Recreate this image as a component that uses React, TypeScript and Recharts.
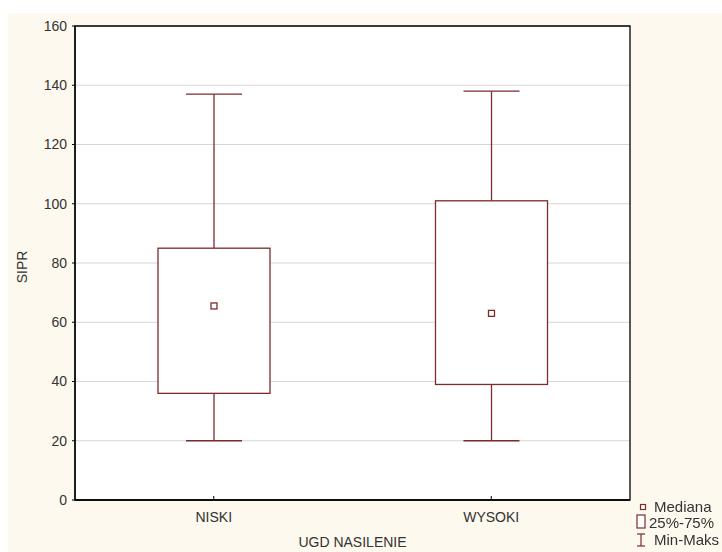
import React from 'react';
import { ComposedChart, Bar, XAxis, YAxis, CartesianGrid, ReferenceArea, Label, Legend } from 'recharts';

const categories = ['NISKI', 'WYSOKI'];
const minValues = [20, 20];
const q1Values = [36, 39];
const medianValues = [65.5, 63];
const q3Values = [85, 101];
const maxValues = [137, 138];
const yTicks = [0, 20, 40, 60, 80, 100, 120, 140, 160];

const data = categories.map((name, i) => ({
  name,
  range: [minValues[i], maxValues[i]],
  min: minValues[i],
  q1: q1Values[i],
  median: medianValues[i],
  q3: q3Values[i],
  max: maxValues[i],
}));

const BOX = '#7d2b2b';
const FONT = "Arial, 'Liberation Sans', sans-serif";
const CREAM = '#fdf9ee';

function BoxShape(props: any) {
  const { x, y, width, height, payload } = props;
  const { min, max, q1, median, q3 } = payload;
  const top = Math.min(y, y + height);
  const bottom = Math.max(y, y + height);
  const span = max - min;
  const pix = (v: number) => bottom - ((v - min) / span) * (bottom - top);
  const cx = x + width / 2;
  const capHalf = width / 4;
  const ms = 3;
  return (
    <g stroke={BOX} strokeWidth={1.3} fill="none">
      <line x1={cx} x2={cx} y1={pix(max)} y2={pix(q3)} />
      <line x1={cx} x2={cx} y1={pix(q1)} y2={pix(min)} />
      <line x1={cx - capHalf} x2={cx + capHalf} y1={pix(max)} y2={pix(max)} />
      <line x1={cx - capHalf} x2={cx + capHalf} y1={pix(min)} y2={pix(min)} />
      <rect x={x} y={pix(q3)} width={width} height={pix(q1) - pix(q3)} fill="#fff" />
      <rect x={cx - ms} y={pix(median) - ms} width={ms * 2} height={ms * 2} fill="#fff" />
    </g>
  );
}

function LegendContent() {
  return (
    <svg width={90} height={54} style={{ display: 'block', overflow: 'visible' }}>
      <g stroke={BOX} strokeWidth={1.2} fill="none">
        <rect x={6.5} y={7.5} width={5} height={5} fill="#fff" />
        <rect x={3} y={18} width={8} height={13} fill="#fff" />
        <line x1={3} x2={11} y1={37} y2={37} />
        <line x1={7} x2={7} y1={37} y2={49} />
        <line x1={3} x2={11} y1={49} y2={49} />
      </g>
      <g fontFamily={FONT} fontSize={15} fill="#333">
        <text x={20} y={15}>Mediana</text>
        <text x={15} y={31}>25%-75%</text>
        <text x={20} y={48}>Min-Maks</text>
      </g>
    </svg>
  );
}

function YLabel(props: any) {
  const { viewBox } = props;
  const x = viewBox.x + 12;
  const y = viewBox.y + viewBox.height / 2 + 4;
  return (
    <text
      x={x}
      y={y}
      transform={`rotate(-90 ${x} ${y})`}
      textAnchor="middle"
      fontFamily={FONT}
      fontSize={14}
      fill="#333"
    >
      SIPR
    </text>
  );
}

export default function App() {
  return (
    <div style={{ position: 'fixed', left: 8, top: 13, width: 714, height: 539, background: CREAM }}>
      <ComposedChart
        width={714}
        height={539}
        data={data}
        margin={{ top: 13, right: 92, bottom: 0, left: 7 }}
      >
        <CartesianGrid vertical={false} stroke="#d6d6d6" fill="#fff" />
        <XAxis
          dataKey="name"
          height={52}
          tickSize={-4}
          tickMargin={16}
          tickLine={{ stroke: '#000' }}
          axisLine={{ stroke: '#000', strokeWidth: 1.3 }}
          tick={{ fill: '#333', fontSize: 14, fontFamily: FONT }}
        >
          <Label
            value="UGD NASILENIE"
            position="insideBottom"
            offset={5}
            style={{ fill: '#333', fontSize: 14, fontFamily: FONT }}
          />
        </XAxis>
        <YAxis
          width={60}
          domain={[0, 160]}
          ticks={yTicks}
          interval={0}
          tickSize={3}
          tickMargin={5}
          tickLine={{ stroke: '#000' }}
          axisLine={{ stroke: '#000', strokeWidth: 1.3 }}
          tick={{ fill: '#333', fontSize: 14, fontFamily: FONT }}
        >
          <Label content={<YLabel />} />
        </YAxis>
        <ReferenceArea y1={0} y2={160} fill="none" stroke="#000" strokeWidth={1.3} ifOverflow="visible" />
        <Bar dataKey="range" barSize={112} isAnimationActive={false} shape={<BoxShape />} />
        <Legend
          layout="vertical"
          align="center"
          verticalAlign="middle"
          content={<LegendContent />}
          wrapperStyle={{ position: 'absolute', left: 626, top: 484, width: 90, height: 54 }}
        />
      </ComposedChart>
    </div>
  );
}
